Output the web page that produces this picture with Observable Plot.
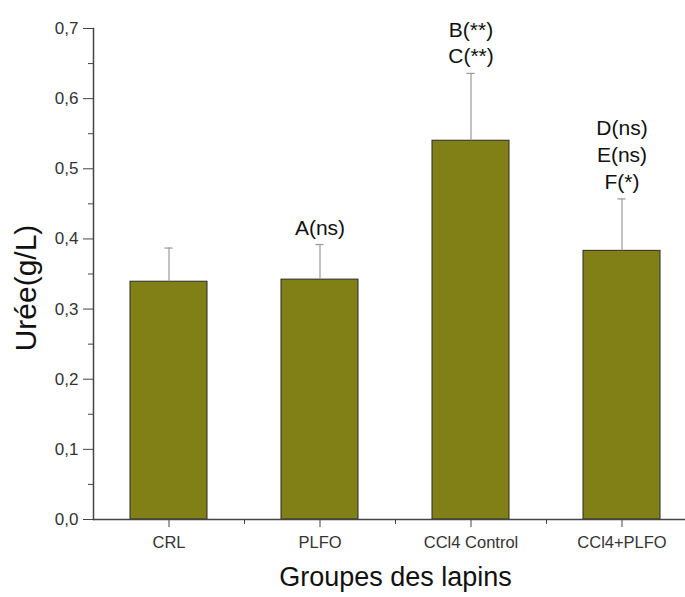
<!DOCTYPE html>
<html>
<head>
<meta charset="utf-8">
<script src="https://cdn.jsdelivr.net/npm/d3@7"></script>
<script src="https://cdn.jsdelivr.net/npm/@observablehq/plot@0.6"></script>
<style>
  body { margin: 0; background: #fff; }
  #chart svg { font-family: "Liberation Sans", Arial, sans-serif; }
</style>
</head>
<body>
<div id="chart"></div>
<script>
const groups = ["CRL", "PLFO", "CCl4 Control", "CCl4+PLFO"];
const means = [0.339, 0.342, 0.540, 0.383];
const errors = [0.048, 0.050, 0.096, 0.074];
const annotations = ["", "A(ns)", "B(**)\nC(**)", "D(ns)\nE(ns)\nF(*)"];
const yMajor = [0, 0.1, 0.2, 0.3, 0.4, 0.5, 0.6, 0.7];
const yMinor = [0.05, 0.15, 0.25, 0.35, 0.45, 0.55, 0.65];
const xMinor = [0.5, 1.5, 2.5];
const yTitle = "Urée(g/L)";
const xTitle = "Groupes des lapins";

const halfBar = 0.255;
const halfCap = 0.027;
const data = groups.map((g, i) => ({
  i, g, mean: means[i], top: means[i] + errors[i], note: annotations[i]
}));

const fill = "#808016";
const ink = "#2a2a2a";

const chart = Plot.plot({
  width: 685,
  height: 597,
  marginLeft: 93,
  marginRight: 0,
  marginTop: 28,
  marginBottom: 78,
  style: { fontFamily: "Liberation Sans, Arial, sans-serif", color: ink, background: "#fff" },
  x: { type: "linear", domain: [-0.5, 3.5], range: [93, 697] },
  y: { domain: [0, 0.7] },
  marks: [
    Plot.rectY(data, { x1: d => d.i - halfBar, x2: d => d.i + halfBar, y: "mean", fill, stroke: ink, strokeWidth: 1 }),
    Plot.ruleX(data, { x: "i", y1: "mean", y2: "top", stroke: "#999", strokeWidth: 1.2 }),
    Plot.ruleY(data, { y: "top", x1: d => d.i - halfCap, x2: d => d.i + halfCap, stroke: "#999", strokeWidth: 1.2 }),
    Plot.text(data, { x: "i", y: "top", text: "note", lineAnchor: "bottom", dy: -10, fontSize: 21, lineHeight: 1.28, fill: "#111" }),
    Plot.ruleY([0], { stroke: "#444", strokeWidth: 1.5 }),
    Plot.frame({ anchor: "left", stroke: "#444", strokeWidth: 1.5 }),
    Plot.axisY({ ticks: yMajor, tickSize: 10, tickPadding: 5, fontSize: 17, label: null, stroke: "#444", fill: "#333",
      tickFormat: d => d.toFixed(1).replace(".", ",") }),
    Plot.axisY({ ticks: yMinor, tickSize: 5, tickFormat: () => "", label: null, stroke: "#444" }),
    Plot.axisX({ ticks: [0, 1, 2, 3], tickSize: 8, tickPadding: 9, fontSize: 16.5, label: null, stroke: "#444", fill: "#333",
      tickFormat: i => groups[i] }),
    Plot.axisX({ ticks: xMinor, tickSize: 5, tickFormat: () => "", label: null, stroke: "#444" }),
    Plot.text([yTitle], { frameAnchor: "left", textAnchor: "middle", rotate: -90, dx: -67, dy: 14, fontSize: 30, fill: "#111" }),
    Plot.text([xTitle], { frameAnchor: "bottom", textAnchor: "middle", dx: 6, dy: 66, fontSize: 27, fill: "#111" })
  ]
});
document.getElementById("chart").appendChild(chart);
</script>
</body>
</html>
